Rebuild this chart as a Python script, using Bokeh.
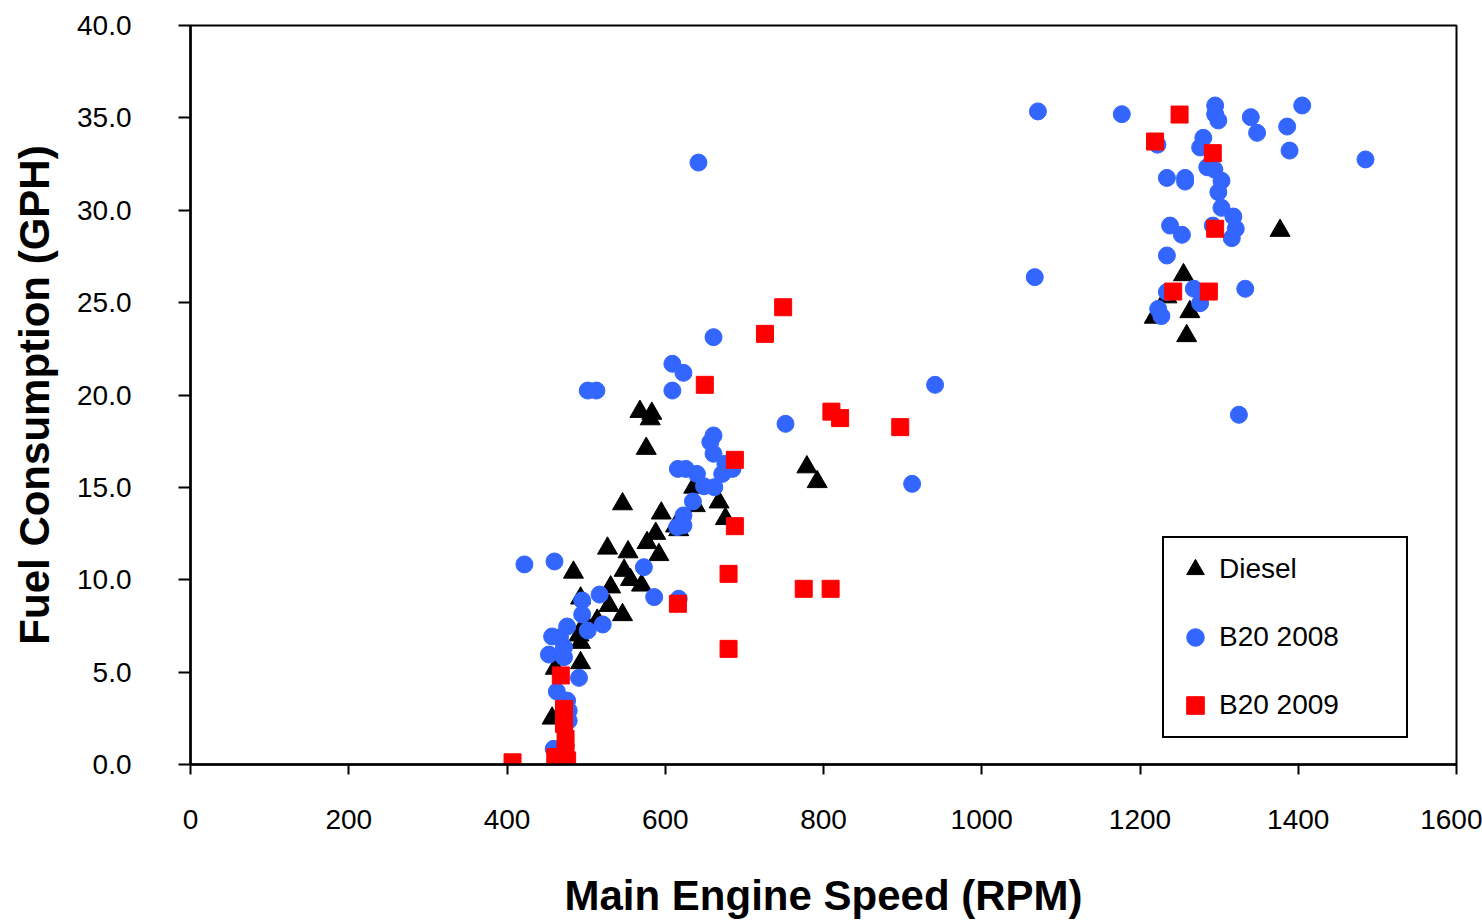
from bokeh.plotting import figure
from bokeh.models import Range1d, FixedTicker, NumeralTickFormatter, Legend, LegendItem
from bokeh.embed import file_html
from bokeh.resources import INLINE

# ---- data ----
x_ticks = [0, 200, 400, 600, 800, 1000, 1200, 1400, 1600]
y_ticks = [0, 5, 10, 15, 20, 25, 30, 35, 40]

diesel_rpm = [568, 583, 581, 576, 546, 595, 613, 617, 636, 638, 668, 676, 588, 577,
              592, 527, 553, 548, 556, 570, 531, 484, 529, 546, 493, 514, 499, 491,
              493, 493, 461, 457, 779, 792, 1377, 1255, 1234, 1218, 1263, 1259]
diesel_gph = [19.1, 19.0, 18.7, 17.1, 14.1, 13.6, 12.9, 12.7, 15.0, 14.0, 14.2, 13.3, 12.5, 12.0,
              11.35, 11.7, 11.5, 10.5, 10.0, 9.7, 9.6, 10.4, 8.6, 8.1, 9.0, 7.8, 7.7, 7.0,
              6.6, 5.5, 5.2, 2.5, 16.1, 15.3, 28.9, 26.5, 25.3, 24.2, 24.5, 23.2]

b2008_rpm = [1071, 1177, 1222, 1295, 1295, 1299, 1340, 1348, 1405, 1386, 1389, 1485, 1280, 1276,
             1285, 1294, 1303, 1299, 1303, 1318, 1321, 1316, 1292, 1234, 1257, 1257, 1238, 1253,
             1234, 1067, 1234, 1268, 1276, 1223, 1227, 1333, 1325,
             661, 609, 623, 609, 752, 941, 912, 661, 657, 661, 616, 626, 640, 649, 662, 672,
             685, 676, 635, 623, 615, 623, 573, 586, 617, 642, 502, 513, 422, 460,
             517, 495, 495, 521, 502, 476, 457, 467, 453, 472, 472, 491, 463, 476, 478, 478, 459]
b2008_gph = [35.35, 35.2, 33.55, 35.67, 35.2, 34.86, 35.04, 34.19, 35.67, 34.53, 33.23, 32.75, 33.92, 33.4,
             32.33, 32.2, 31.6, 30.98, 30.13, 29.66, 29.0, 28.49, 29.17, 31.75, 31.75, 31.55, 29.17, 28.67,
             27.55, 26.38, 25.57, 25.75, 24.97, 24.66, 24.27, 25.75, 18.93,
             23.13, 21.69, 21.2, 20.24, 18.44, 20.55, 15.19, 17.81, 17.45, 16.82, 16.0, 16.0, 15.73, 15.06, 15.01, 15.73,
             16.0, 16.28, 14.24, 13.48, 12.85, 12.94, 10.68, 9.06, 8.97, 32.58, 20.24, 20.24, 10.83, 10.99,
             9.2, 8.88, 8.12, 7.58, 7.25, 7.47, 6.93, 6.89, 5.95, 6.35, 5.81, 4.69, 3.95, 3.46, 2.92, 2.38, 0.85]

b2009_rpm = [1250, 1219, 1292, 1295, 1242, 1287, 749, 726, 650, 810, 821, 897, 688, 688,
             680, 775, 809, 616, 680, 468, 472, 472, 474, 474, 461, 476, 407]
b2009_gph = [35.18, 33.72, 33.09, 29.0, 25.6, 25.6, 24.75, 23.31, 20.55, 19.1, 18.75, 18.26, 16.49, 12.9,
             10.32, 9.51, 9.51, 8.70, 6.26, 4.82, 3.01, 2.2, 1.39, 0.67, 0.4, 0.22, 0.12]

series_names = ["Diesel", "B20 2008", "B20 2009"]

FONT = "Liberation Sans"

p = figure(width=1482, height=924, output_backend="svg", toolbar_location=None,
           x_range=Range1d(0, 1600), y_range=Range1d(0, 40),
           min_border_left=190, min_border_right=26, min_border_top=25, min_border_bottom=160)
p.background_fill_color = "white"
p.border_fill_color = "white"
p.xgrid.visible = False
p.ygrid.visible = False
p.outline_line_color = "black"
p.outline_line_width = 2
p.outline_line_alpha = 1.0

r1 = p.scatter(diesel_rpm, diesel_gph, marker="triangle", size=20,
               fill_color="black", line_color="black")
r2 = p.scatter(b2008_rpm, b2008_gph, marker="circle", size=17,
               fill_color="#3366FF", line_color="#3366FF")
r3 = p.scatter(b2009_rpm, b2009_gph, marker="square", size=17,
               fill_color="#FF0000", line_color="#FF0000")

for ax in (p.xaxis[0], p.yaxis[0]):
    ax.axis_line_width = 2.5
    ax.axis_line_color = "black"
    ax.major_tick_line_width = 2
    ax.major_tick_line_color = "black"
    ax.major_tick_in = 0
    ax.minor_tick_in = 0
    ax.minor_tick_out = 0
    ax.major_label_text_font = FONT
    ax.major_label_text_font_size = "28px"
    ax.major_label_text_color = "black"
    ax.axis_label_text_font = FONT
    ax.axis_label_text_font_size = "42px"
    ax.axis_label_text_font_style = "bold"
    ax.axis_label_text_color = "black"

p.xaxis[0].ticker = FixedTicker(ticks=x_ticks)
p.xaxis[0].formatter = NumeralTickFormatter(format="0")
p.xaxis[0].major_tick_out = 10
p.xaxis[0].major_label_standoff = 35
p.xaxis[0].axis_label = "Main Engine Speed (RPM)"
p.xaxis[0].axis_label_standoff = 40

p.yaxis[0].ticker = FixedTicker(ticks=y_ticks)
p.yaxis[0].formatter = NumeralTickFormatter(format="0.0")
p.yaxis[0].major_tick_out = 12
p.yaxis[0].major_label_standoff = 47
p.yaxis[0].axis_label = "Fuel Consumption (GPH)"
p.yaxis[0].axis_label_standoff = 16

legend = Legend(items=[LegendItem(label=series_names[0], renderers=[r1]),
                       LegendItem(label=series_names[1], renderers=[r2]),
                       LegendItem(label=series_names[2], renderers=[r3])],
                location=(972, 26))
legend.label_text_font = FONT
legend.label_text_font_size = "28px"
legend.label_text_color = "black"
legend.glyph_width = 44
legend.glyph_height = 44
legend.label_height = 44
legend.label_width = 178
legend.label_standoff = 2
legend.spacing = 24
legend.padding = 9
legend.margin = 0
legend.border_line_color = "black"
legend.border_line_width = 2.5
legend.border_line_alpha = 1.0
legend.background_fill_color = "white"
legend.background_fill_alpha = 1.0
p.add_layout(legend)

open("out.html", "w").write(file_html(p, INLINE))
